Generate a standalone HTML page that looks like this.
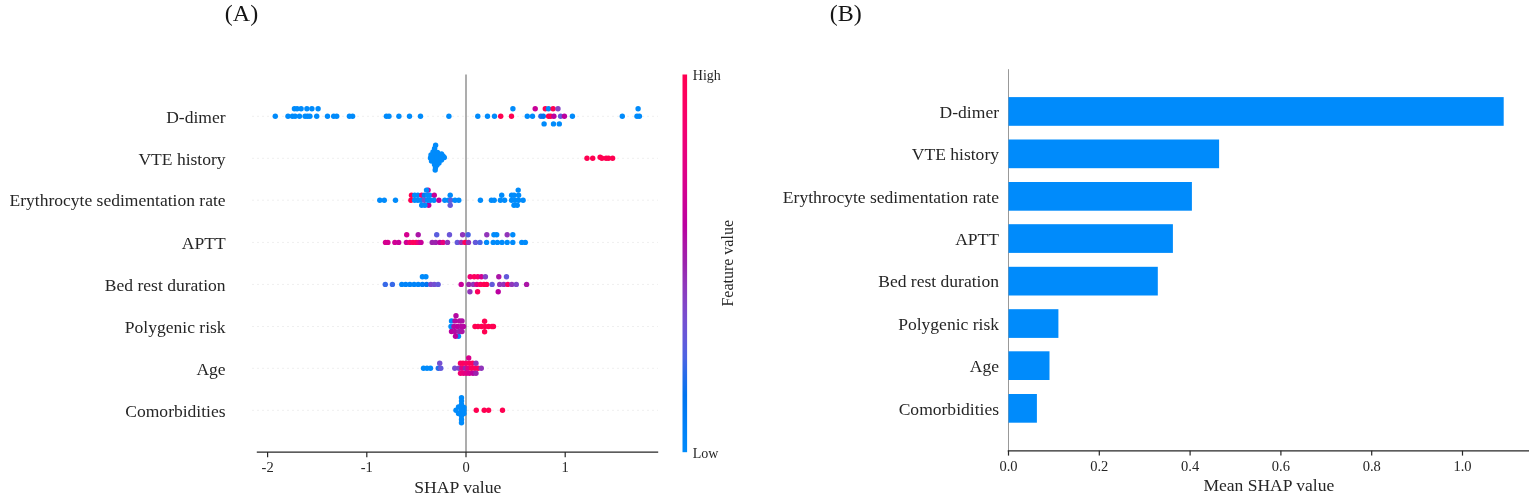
<!DOCTYPE html>
<html><head><meta charset="utf-8"><style>
html,body{margin:0;padding:0;background:#fff;}
body{width:1535px;height:502px;overflow:hidden;}
svg{display:block;}
</style></head><body>
<svg width="1535" height="502" viewBox="0 0 1535 502" font-family="'Liberation Serif','Times New Roman',serif" fill="#262626" font-size="17.55">
<defs><linearGradient id="cb" x1="0" y1="0" x2="0" y2="1">
<stop offset="0.0%" stop-color="#ff0051"/>
<stop offset="5.0%" stop-color="#fe005c"/>
<stop offset="10.0%" stop-color="#f90067"/>
<stop offset="15.0%" stop-color="#f20072"/>
<stop offset="20.0%" stop-color="#e9007c"/>
<stop offset="25.0%" stop-color="#e00086"/>
<stop offset="30.0%" stop-color="#d5008f"/>
<stop offset="35.0%" stop-color="#c80098"/>
<stop offset="40.0%" stop-color="#bb00a0"/>
<stop offset="45.0%" stop-color="#ab15a7"/>
<stop offset="50.0%" stop-color="#9b23ad"/>
<stop offset="55.0%" stop-color="#9135ba"/>
<stop offset="60.0%" stop-color="#8443c6"/>
<stop offset="65.0%" stop-color="#754fd1"/>
<stop offset="70.0%" stop-color="#6359da"/>
<stop offset="75.0%" stop-color="#4b63e3"/>
<stop offset="80.0%" stop-color="#236cea"/>
<stop offset="85.0%" stop-color="#0074f0"/>
<stop offset="90.0%" stop-color="#007cf5"/>
<stop offset="95.0%" stop-color="#0084f9"/>
<stop offset="100.0%" stop-color="#008bfb"/>
</linearGradient></defs>
<rect width="1535" height="502" fill="#fff"/>
<text x="241.5" y="21" text-anchor="middle" font-size="24" fill="#151515">(A)</text>
<text x="845.8" y="21" text-anchor="middle" font-size="24" fill="#151515">(B)</text>
<line x1="252" y1="116.3" x2="658" y2="116.3" stroke="#efefef" stroke-width="1" stroke-dasharray="2,3"/>
<line x1="252" y1="158.3" x2="658" y2="158.3" stroke="#efefef" stroke-width="1" stroke-dasharray="2,3"/>
<line x1="252" y1="200.2" x2="658" y2="200.2" stroke="#efefef" stroke-width="1" stroke-dasharray="2,3"/>
<line x1="252" y1="242.4" x2="658" y2="242.4" stroke="#efefef" stroke-width="1" stroke-dasharray="2,3"/>
<line x1="252" y1="284.4" x2="658" y2="284.4" stroke="#efefef" stroke-width="1" stroke-dasharray="2,3"/>
<line x1="252" y1="326.5" x2="658" y2="326.5" stroke="#efefef" stroke-width="1" stroke-dasharray="2,3"/>
<line x1="252" y1="368.3" x2="658" y2="368.3" stroke="#efefef" stroke-width="1" stroke-dasharray="2,3"/>
<line x1="252" y1="410.3" x2="658" y2="410.3" stroke="#efefef" stroke-width="1" stroke-dasharray="2,3"/>
<line x1="466" y1="74.5" x2="466" y2="452" stroke="#999999" stroke-width="1.6"/>
<circle cx="275.3" cy="116.3" r="2.7" fill="#008bfb"/>
<circle cx="288.0" cy="116.3" r="2.7" fill="#008bfb"/>
<circle cx="292.4" cy="116.3" r="2.7" fill="#008bfb"/>
<circle cx="295.1" cy="116.3" r="2.7" fill="#008bfb"/>
<circle cx="299.5" cy="116.3" r="2.7" fill="#008bfb"/>
<circle cx="305.1" cy="116.3" r="2.7" fill="#008bfb"/>
<circle cx="307.5" cy="116.3" r="2.7" fill="#008bfb"/>
<circle cx="309.9" cy="116.3" r="2.7" fill="#008bfb"/>
<circle cx="316.7" cy="116.3" r="2.7" fill="#008bfb"/>
<circle cx="327.5" cy="116.3" r="2.7" fill="#008bfb"/>
<circle cx="333.7" cy="116.3" r="2.7" fill="#008bfb"/>
<circle cx="336.7" cy="116.3" r="2.7" fill="#008bfb"/>
<circle cx="349.4" cy="116.3" r="2.7" fill="#008bfb"/>
<circle cx="352.6" cy="116.3" r="2.7" fill="#008bfb"/>
<circle cx="386.4" cy="116.3" r="2.7" fill="#008bfb"/>
<circle cx="389.0" cy="116.3" r="2.7" fill="#008bfb"/>
<circle cx="398.9" cy="116.3" r="2.7" fill="#008bfb"/>
<circle cx="409.5" cy="116.3" r="2.7" fill="#008bfb"/>
<circle cx="420.5" cy="116.3" r="2.7" fill="#008bfb"/>
<circle cx="448.9" cy="116.3" r="2.7" fill="#008bfb"/>
<circle cx="477.8" cy="116.3" r="2.7" fill="#008bfb"/>
<circle cx="487.5" cy="116.3" r="2.7" fill="#008bfb"/>
<circle cx="494.5" cy="116.3" r="2.7" fill="#008bfb"/>
<circle cx="500.7" cy="116.3" r="2.7" fill="#ff0051"/>
<circle cx="511.5" cy="116.3" r="2.7" fill="#ff0051"/>
<circle cx="527.3" cy="116.3" r="2.7" fill="#008bfb"/>
<circle cx="532.5" cy="116.3" r="2.7" fill="#008bfb"/>
<circle cx="540.9" cy="116.3" r="2.7" fill="#236cea"/>
<circle cx="543.3" cy="116.3" r="2.7" fill="#0074f0"/>
<circle cx="548.6" cy="116.3" r="2.7" fill="#ff0051"/>
<circle cx="550.7" cy="116.3" r="2.7" fill="#ff0051"/>
<circle cx="553.9" cy="116.3" r="2.7" fill="#bb00a0"/>
<circle cx="560.6" cy="116.3" r="2.7" fill="#6359da"/>
<circle cx="564.4" cy="116.3" r="2.7" fill="#bb00a0"/>
<circle cx="572.4" cy="116.3" r="2.7" fill="#008bfb"/>
<circle cx="622.3" cy="116.3" r="2.7" fill="#008bfb"/>
<circle cx="637.0" cy="116.3" r="2.7" fill="#008bfb"/>
<circle cx="639.4" cy="116.3" r="2.7" fill="#008bfb"/>
<circle cx="294.4" cy="108.8" r="2.7" fill="#008bfb"/>
<circle cx="297.1" cy="108.8" r="2.7" fill="#008bfb"/>
<circle cx="301.1" cy="108.8" r="2.7" fill="#008bfb"/>
<circle cx="306.9" cy="108.8" r="2.7" fill="#008bfb"/>
<circle cx="311.9" cy="108.8" r="2.7" fill="#008bfb"/>
<circle cx="318.1" cy="108.8" r="2.7" fill="#008bfb"/>
<circle cx="512.9" cy="108.8" r="2.7" fill="#008bfb"/>
<circle cx="535.2" cy="108.8" r="2.7" fill="#c80098"/>
<circle cx="545.3" cy="108.8" r="2.7" fill="#ff0051"/>
<circle cx="548.5" cy="108.8" r="2.7" fill="#008bfb"/>
<circle cx="553.1" cy="108.8" r="2.7" fill="#ff0051"/>
<circle cx="558.0" cy="108.8" r="2.7" fill="#8443c6"/>
<circle cx="638.1" cy="108.8" r="2.7" fill="#008bfb"/>
<circle cx="544.1" cy="123.9" r="2.7" fill="#008bfb"/>
<circle cx="553.5" cy="123.9" r="2.7" fill="#008bfb"/>
<circle cx="559.3" cy="123.9" r="2.7" fill="#008bfb"/>
<circle cx="435.6" cy="145.2" r="2.7" fill="#008bfb"/>
<circle cx="434.6" cy="148.5" r="2.7" fill="#008bfb"/>
<circle cx="433.0" cy="152.0" r="2.7" fill="#008bfb"/>
<circle cx="437.5" cy="152.5" r="2.7" fill="#008bfb"/>
<circle cx="431.0" cy="155.0" r="2.7" fill="#008bfb"/>
<circle cx="435.0" cy="155.0" r="2.7" fill="#008bfb"/>
<circle cx="439.5" cy="155.5" r="2.7" fill="#008bfb"/>
<circle cx="430.5" cy="158.0" r="2.7" fill="#008bfb"/>
<circle cx="434.0" cy="158.0" r="2.7" fill="#008bfb"/>
<circle cx="437.5" cy="158.0" r="2.7" fill="#008bfb"/>
<circle cx="441.0" cy="158.0" r="2.7" fill="#008bfb"/>
<circle cx="444.3" cy="157.5" r="2.7" fill="#008bfb"/>
<circle cx="431.5" cy="161.0" r="2.7" fill="#008bfb"/>
<circle cx="435.0" cy="161.5" r="2.7" fill="#008bfb"/>
<circle cx="438.5" cy="161.0" r="2.7" fill="#008bfb"/>
<circle cx="434.5" cy="164.5" r="2.7" fill="#008bfb"/>
<circle cx="437.0" cy="165.0" r="2.7" fill="#008bfb"/>
<circle cx="435.5" cy="167.5" r="2.7" fill="#008bfb"/>
<circle cx="435.2" cy="170.0" r="2.7" fill="#008bfb"/>
<circle cx="441.5" cy="154.0" r="2.7" fill="#008bfb"/>
<circle cx="443.0" cy="156.0" r="2.7" fill="#008bfb"/>
<circle cx="441.5" cy="160.0" r="2.7" fill="#008bfb"/>
<circle cx="439.0" cy="163.0" r="2.7" fill="#008bfb"/>
<circle cx="587.0" cy="158.2" r="2.7" fill="#ff0051"/>
<circle cx="592.7" cy="158.2" r="2.7" fill="#ff0051"/>
<circle cx="600.1" cy="157.2" r="2.7" fill="#ff0051"/>
<circle cx="601.9" cy="158.2" r="2.7" fill="#ff0051"/>
<circle cx="606.1" cy="158.2" r="2.7" fill="#ff0051"/>
<circle cx="608.5" cy="158.2" r="2.7" fill="#ff0051"/>
<circle cx="612.6" cy="158.2" r="2.7" fill="#ff0051"/>
<circle cx="428.1" cy="190.1" r="2.7" fill="#c80098"/>
<circle cx="426.5" cy="190.1" r="2.7" fill="#008bfb"/>
<circle cx="518.2" cy="190.1" r="2.7" fill="#008bfb"/>
<circle cx="428.7" cy="205.2" r="2.7" fill="#bb00a0"/>
<circle cx="421.7" cy="205.2" r="2.7" fill="#008bfb"/>
<circle cx="424.9" cy="205.2" r="2.7" fill="#008bfb"/>
<circle cx="450.2" cy="205.2" r="2.7" fill="#6359da"/>
<circle cx="514.0" cy="205.2" r="2.7" fill="#008bfb"/>
<circle cx="517.2" cy="205.2" r="2.7" fill="#008bfb"/>
<circle cx="411.5" cy="195.2" r="2.7" fill="#ff0051"/>
<circle cx="414.7" cy="195.2" r="2.7" fill="#008bfb"/>
<circle cx="417.9" cy="195.2" r="2.7" fill="#008bfb"/>
<circle cx="421.7" cy="195.2" r="2.7" fill="#f20072"/>
<circle cx="424.4" cy="195.2" r="2.7" fill="#007cf5"/>
<circle cx="427.6" cy="195.2" r="2.7" fill="#008bfb"/>
<circle cx="429.7" cy="195.2" r="2.7" fill="#008bfb"/>
<circle cx="434.3" cy="195.2" r="2.7" fill="#c80098"/>
<circle cx="450.2" cy="195.2" r="2.7" fill="#008bfb"/>
<circle cx="501.7" cy="195.2" r="2.7" fill="#008bfb"/>
<circle cx="511.6" cy="195.2" r="2.7" fill="#008bfb"/>
<circle cx="514.0" cy="195.2" r="2.7" fill="#008bfb"/>
<circle cx="518.6" cy="195.2" r="2.7" fill="#008bfb"/>
<circle cx="379.8" cy="200.3" r="2.7" fill="#008bfb"/>
<circle cx="384.3" cy="200.3" r="2.7" fill="#008bfb"/>
<circle cx="395.5" cy="200.3" r="2.7" fill="#008bfb"/>
<circle cx="410.9" cy="200.3" r="2.7" fill="#ff0051"/>
<circle cx="414.7" cy="200.3" r="2.7" fill="#008bfb"/>
<circle cx="417.9" cy="200.3" r="2.7" fill="#008bfb"/>
<circle cx="421.1" cy="200.3" r="2.7" fill="#008bfb"/>
<circle cx="424.4" cy="200.3" r="2.7" fill="#754fd1"/>
<circle cx="427.6" cy="200.3" r="2.7" fill="#008bfb"/>
<circle cx="430.3" cy="200.3" r="2.7" fill="#008bfb"/>
<circle cx="434.0" cy="200.3" r="2.7" fill="#008bfb"/>
<circle cx="438.9" cy="200.3" r="2.7" fill="#c0009c"/>
<circle cx="444.8" cy="200.3" r="2.7" fill="#008bfb"/>
<circle cx="448.5" cy="200.3" r="2.7" fill="#008bfb"/>
<circle cx="450.7" cy="200.3" r="2.7" fill="#5a5dde"/>
<circle cx="455.0" cy="200.3" r="2.7" fill="#008bfb"/>
<circle cx="458.8" cy="200.3" r="2.7" fill="#008bfb"/>
<circle cx="480.4" cy="200.3" r="2.7" fill="#008bfb"/>
<circle cx="491.4" cy="200.3" r="2.7" fill="#008bfb"/>
<circle cx="494.2" cy="200.3" r="2.7" fill="#008bfb"/>
<circle cx="500.4" cy="200.3" r="2.7" fill="#008bfb"/>
<circle cx="504.6" cy="200.3" r="2.7" fill="#008bfb"/>
<circle cx="511.6" cy="200.3" r="2.7" fill="#008bfb"/>
<circle cx="515.1" cy="200.3" r="2.7" fill="#008bfb"/>
<circle cx="518.6" cy="200.3" r="2.7" fill="#008bfb"/>
<circle cx="523.1" cy="200.3" r="2.7" fill="#008bfb"/>
<circle cx="385.5" cy="242.4" r="2.7" fill="#d5008f"/>
<circle cx="387.9" cy="242.4" r="2.7" fill="#d5008f"/>
<circle cx="394.9" cy="242.4" r="2.7" fill="#d00093"/>
<circle cx="398.7" cy="242.4" r="2.7" fill="#c80098"/>
<circle cx="406.4" cy="242.4" r="2.7" fill="#d00093"/>
<circle cx="409.9" cy="242.4" r="2.7" fill="#f20072"/>
<circle cx="413.0" cy="242.4" r="2.7" fill="#fe005c"/>
<circle cx="416.1" cy="242.4" r="2.7" fill="#fe005c"/>
<circle cx="418.6" cy="242.4" r="2.7" fill="#e9007c"/>
<circle cx="421.0" cy="242.4" r="2.7" fill="#c80098"/>
<circle cx="432.2" cy="242.4" r="2.7" fill="#9b23ad"/>
<circle cx="435.7" cy="242.4" r="2.7" fill="#9b23ad"/>
<circle cx="439.9" cy="242.4" r="2.7" fill="#bb00a0"/>
<circle cx="443.0" cy="242.4" r="2.7" fill="#e9007c"/>
<circle cx="447.5" cy="242.4" r="2.7" fill="#9135ba"/>
<circle cx="457.3" cy="242.4" r="2.7" fill="#6359da"/>
<circle cx="461.2" cy="242.4" r="2.7" fill="#9135ba"/>
<circle cx="465.0" cy="242.4" r="2.7" fill="#fe005c"/>
<circle cx="468.5" cy="242.4" r="2.7" fill="#9135ba"/>
<circle cx="475.5" cy="242.4" r="2.7" fill="#6359da"/>
<circle cx="480.0" cy="242.4" r="2.7" fill="#4b63e3"/>
<circle cx="486.6" cy="242.4" r="2.7" fill="#008bfb"/>
<circle cx="493.2" cy="242.4" r="2.7" fill="#008bfb"/>
<circle cx="497.4" cy="242.4" r="2.7" fill="#008bfb"/>
<circle cx="502.0" cy="242.4" r="2.7" fill="#008bfb"/>
<circle cx="507.2" cy="242.4" r="2.7" fill="#008bfb"/>
<circle cx="512.8" cy="242.4" r="2.7" fill="#008bfb"/>
<circle cx="521.8" cy="242.4" r="2.7" fill="#008bfb"/>
<circle cx="525.3" cy="242.4" r="2.7" fill="#008bfb"/>
<circle cx="406.7" cy="234.8" r="2.7" fill="#d5008f"/>
<circle cx="418.2" cy="234.8" r="2.7" fill="#ab15a7"/>
<circle cx="436.7" cy="234.8" r="2.7" fill="#5a5dde"/>
<circle cx="449.5" cy="234.8" r="2.7" fill="#6a55d7"/>
<circle cx="462.6" cy="234.8" r="2.7" fill="#9135ba"/>
<circle cx="468.1" cy="234.8" r="2.7" fill="#4b63e3"/>
<circle cx="486.8" cy="234.8" r="2.7" fill="#9135ba"/>
<circle cx="493.9" cy="234.8" r="2.7" fill="#008bfb"/>
<circle cx="496.7" cy="234.8" r="2.7" fill="#008bfb"/>
<circle cx="507.2" cy="234.8" r="2.7" fill="#9135ba"/>
<circle cx="512.8" cy="234.8" r="2.7" fill="#008bfb"/>
<circle cx="385.3" cy="284.4" r="2.7" fill="#3769e8"/>
<circle cx="392.4" cy="284.4" r="2.7" fill="#3769e8"/>
<circle cx="401.8" cy="284.4" r="2.7" fill="#0084f9"/>
<circle cx="405.7" cy="284.4" r="2.7" fill="#0084f9"/>
<circle cx="409.9" cy="284.4" r="2.7" fill="#0084f9"/>
<circle cx="414.1" cy="284.4" r="2.7" fill="#0084f9"/>
<circle cx="418.2" cy="284.4" r="2.7" fill="#0084f9"/>
<circle cx="422.4" cy="284.4" r="2.7" fill="#007cf5"/>
<circle cx="426.6" cy="284.4" r="2.7" fill="#0074f0"/>
<circle cx="430.8" cy="284.4" r="2.7" fill="#7e48ca"/>
<circle cx="434.3" cy="284.4" r="2.7" fill="#754fd1"/>
<circle cx="438.1" cy="284.4" r="2.7" fill="#6359da"/>
<circle cx="461.2" cy="284.4" r="2.7" fill="#c80098"/>
<circle cx="468.8" cy="284.4" r="2.7" fill="#9b23ad"/>
<circle cx="473.3" cy="284.4" r="2.7" fill="#9135ba"/>
<circle cx="476.9" cy="284.4" r="2.7" fill="#e00086"/>
<circle cx="480.5" cy="284.4" r="2.7" fill="#fe005c"/>
<circle cx="484.0" cy="284.4" r="2.7" fill="#ff0051"/>
<circle cx="486.7" cy="284.4" r="2.7" fill="#ff0051"/>
<circle cx="492.1" cy="284.4" r="2.7" fill="#6359da"/>
<circle cx="499.7" cy="284.4" r="2.7" fill="#9135ba"/>
<circle cx="503.8" cy="284.4" r="2.7" fill="#9135ba"/>
<circle cx="507.8" cy="284.4" r="2.7" fill="#fe005c"/>
<circle cx="511.8" cy="284.4" r="2.7" fill="#9135ba"/>
<circle cx="516.3" cy="284.4" r="2.7" fill="#7e48ca"/>
<circle cx="526.6" cy="284.4" r="2.7" fill="#ab15a7"/>
<circle cx="422.4" cy="276.8" r="2.7" fill="#008bfb"/>
<circle cx="425.9" cy="276.8" r="2.7" fill="#008bfb"/>
<circle cx="470.2" cy="276.8" r="2.7" fill="#f20072"/>
<circle cx="474.2" cy="276.8" r="2.7" fill="#fe005c"/>
<circle cx="477.8" cy="276.8" r="2.7" fill="#f90067"/>
<circle cx="481.4" cy="276.8" r="2.7" fill="#d5008f"/>
<circle cx="485.4" cy="276.8" r="2.7" fill="#8443c6"/>
<circle cx="498.8" cy="276.8" r="2.7" fill="#ab15a7"/>
<circle cx="506.5" cy="276.8" r="2.7" fill="#6359da"/>
<circle cx="469.9" cy="291.7" r="2.7" fill="#9135ba"/>
<circle cx="477.6" cy="291.7" r="2.7" fill="#fe005c"/>
<circle cx="498.2" cy="291.7" r="2.7" fill="#bb00a0"/>
<circle cx="451.5" cy="320.9" r="2.7" fill="#008bfb"/>
<circle cx="451.0" cy="326.5" r="2.7" fill="#008bfb"/>
<circle cx="458.5" cy="336.2" r="2.7" fill="#008bfb"/>
<circle cx="456.0" cy="315.7" r="2.7" fill="#b508a2"/>
<circle cx="455.0" cy="320.9" r="2.7" fill="#b508a2"/>
<circle cx="459.5" cy="320.9" r="2.7" fill="#b508a2"/>
<circle cx="462.0" cy="320.9" r="2.7" fill="#af11a5"/>
<circle cx="454.0" cy="326.5" r="2.7" fill="#b508a2"/>
<circle cx="457.5" cy="326.5" r="2.7" fill="#bb00a0"/>
<circle cx="461.0" cy="326.5" r="2.7" fill="#b508a2"/>
<circle cx="463.5" cy="326.5" r="2.7" fill="#b508a2"/>
<circle cx="451.5" cy="331.5" r="2.7" fill="#bb00a0"/>
<circle cx="455.0" cy="331.5" r="2.7" fill="#b508a2"/>
<circle cx="459.0" cy="331.5" r="2.7" fill="#9b23ad"/>
<circle cx="462.0" cy="331.5" r="2.7" fill="#ab15a7"/>
<circle cx="455.5" cy="336.2" r="2.7" fill="#bb00a0"/>
<circle cx="475.0" cy="326.5" r="2.7" fill="#ff0051"/>
<circle cx="478.0" cy="326.5" r="2.7" fill="#ff0051"/>
<circle cx="481.5" cy="326.5" r="2.7" fill="#ff0051"/>
<circle cx="485.0" cy="326.5" r="2.7" fill="#ff0051"/>
<circle cx="488.5" cy="326.5" r="2.7" fill="#ff0051"/>
<circle cx="492.0" cy="326.5" r="2.7" fill="#ff0051"/>
<circle cx="493.5" cy="326.5" r="2.7" fill="#ff0051"/>
<circle cx="484.6" cy="321.2" r="2.7" fill="#ff0051"/>
<circle cx="484.6" cy="331.7" r="2.7" fill="#ff0051"/>
<circle cx="423.5" cy="368.3" r="2.7" fill="#008bfb"/>
<circle cx="427.0" cy="368.3" r="2.7" fill="#008bfb"/>
<circle cx="430.5" cy="368.3" r="2.7" fill="#008bfb"/>
<circle cx="438.3" cy="368.3" r="2.7" fill="#236cea"/>
<circle cx="440.8" cy="368.3" r="2.7" fill="#6359da"/>
<circle cx="439.7" cy="363.2" r="2.7" fill="#754fd1"/>
<circle cx="454.8" cy="368.3" r="2.7" fill="#754fd1"/>
<circle cx="459.0" cy="368.3" r="2.7" fill="#8443c6"/>
<circle cx="462.0" cy="368.3" r="2.7" fill="#e00086"/>
<circle cx="465.5" cy="368.3" r="2.7" fill="#9b23ad"/>
<circle cx="468.0" cy="368.3" r="2.7" fill="#e00086"/>
<circle cx="471.5" cy="368.3" r="2.7" fill="#fe005c"/>
<circle cx="475.0" cy="368.3" r="2.7" fill="#fe005c"/>
<circle cx="478.0" cy="368.3" r="2.7" fill="#fe005c"/>
<circle cx="481.3" cy="368.3" r="2.7" fill="#9135ba"/>
<circle cx="460.5" cy="363.2" r="2.7" fill="#f90067"/>
<circle cx="463.0" cy="363.2" r="2.7" fill="#fe005c"/>
<circle cx="466.0" cy="363.2" r="2.7" fill="#f90067"/>
<circle cx="469.5" cy="363.2" r="2.7" fill="#fe005c"/>
<circle cx="472.5" cy="363.2" r="2.7" fill="#fe005c"/>
<circle cx="476.0" cy="363.2" r="2.7" fill="#9135ba"/>
<circle cx="468.7" cy="358.0" r="2.7" fill="#d9008b"/>
<circle cx="460.5" cy="373.3" r="2.7" fill="#f20072"/>
<circle cx="463.5" cy="373.3" r="2.7" fill="#e9007c"/>
<circle cx="466.5" cy="373.3" r="2.7" fill="#e00086"/>
<circle cx="469.5" cy="373.3" r="2.7" fill="#d5008f"/>
<circle cx="473.0" cy="373.3" r="2.7" fill="#bb00a0"/>
<circle cx="476.0" cy="373.3" r="2.7" fill="#9b23ad"/>
<circle cx="461.5" cy="397.7" r="2.7" fill="#008bfb"/>
<circle cx="461.5" cy="401.0" r="2.7" fill="#008bfb"/>
<circle cx="461.5" cy="404.5" r="2.7" fill="#008bfb"/>
<circle cx="461.5" cy="407.5" r="2.7" fill="#008bfb"/>
<circle cx="461.5" cy="410.3" r="2.7" fill="#008bfb"/>
<circle cx="461.5" cy="413.0" r="2.7" fill="#008bfb"/>
<circle cx="461.5" cy="416.0" r="2.7" fill="#008bfb"/>
<circle cx="461.5" cy="419.5" r="2.7" fill="#008bfb"/>
<circle cx="461.5" cy="422.7" r="2.7" fill="#008bfb"/>
<circle cx="456.0" cy="410.3" r="2.7" fill="#008bfb"/>
<circle cx="458.5" cy="407.0" r="2.7" fill="#008bfb"/>
<circle cx="458.5" cy="413.5" r="2.7" fill="#008bfb"/>
<circle cx="464.0" cy="407.5" r="2.7" fill="#008bfb"/>
<circle cx="464.0" cy="410.3" r="2.7" fill="#008bfb"/>
<circle cx="464.0" cy="413.5" r="2.7" fill="#008bfb"/>
<circle cx="476.3" cy="410.3" r="2.7" fill="#ff0051"/>
<circle cx="484.2" cy="410.3" r="2.7" fill="#ff0051"/>
<circle cx="488.6" cy="410.3" r="2.7" fill="#ff0051"/>
<circle cx="502.5" cy="410.3" r="2.7" fill="#ff0051"/>
<line x1="256.8" y1="452.2" x2="658.2" y2="452.2" stroke="#262626" stroke-width="1.3"/>
<line x1="267.6" y1="452" x2="267.6" y2="457.3" stroke="#262626" stroke-width="1.2"/><text x="267.6" y="472" text-anchor="middle" font-size="14.5">-2</text>
<line x1="366.8" y1="452" x2="366.8" y2="457.3" stroke="#262626" stroke-width="1.2"/><text x="366.8" y="472" text-anchor="middle" font-size="14.5">-1</text>
<line x1="466.0" y1="452" x2="466.0" y2="457.3" stroke="#262626" stroke-width="1.2"/><text x="466.0" y="472" text-anchor="middle" font-size="14.5">0</text>
<line x1="565.2" y1="452" x2="565.2" y2="457.3" stroke="#262626" stroke-width="1.2"/><text x="565.2" y="472" text-anchor="middle" font-size="14.5">1</text>
<text x="457.8" y="493.2" text-anchor="middle" font-size="17.7">SHAP value</text>
<text x="225.6" y="122.5" text-anchor="end">D-dimer</text>
<text x="225.6" y="164.5" text-anchor="end">VTE history</text>
<text x="225.6" y="206.4" text-anchor="end">Erythrocyte sedimentation rate</text>
<text x="225.6" y="248.6" text-anchor="end">APTT</text>
<text x="225.6" y="290.6" text-anchor="end">Bed rest duration</text>
<text x="225.6" y="332.7" text-anchor="end">Polygenic risk</text>
<text x="225.6" y="374.5" text-anchor="end">Age</text>
<text x="225.6" y="416.5" text-anchor="end">Comorbidities</text>
<rect x="682.5" y="74.5" width="4.6" height="377.7" fill="url(#cb)"/>
<text x="692.8" y="79.6" font-size="14">High</text>
<text x="692.8" y="458" font-size="14">Low</text>
<text transform="translate(732.6,263.3) rotate(-90)" text-anchor="middle" font-size="16">Feature value</text>
<line x1="1008.5" y1="69.2" x2="1008.5" y2="451" stroke="#999999" stroke-width="1"/>
<rect x="1008.5" y="97.1" width="495.2" height="28.7" fill="#008bfb"/>
<rect x="1008.5" y="139.5" width="210.6" height="28.7" fill="#008bfb"/>
<rect x="1008.5" y="182.0" width="183.4" height="28.7" fill="#008bfb"/>
<rect x="1008.5" y="224.2" width="164.4" height="28.7" fill="#008bfb"/>
<rect x="1008.5" y="266.8" width="149.3" height="28.7" fill="#008bfb"/>
<rect x="1008.5" y="309.2" width="49.9" height="28.7" fill="#008bfb"/>
<rect x="1008.5" y="351.3" width="41.0" height="28.7" fill="#008bfb"/>
<rect x="1008.5" y="394.0" width="28.4" height="28.7" fill="#008bfb"/>
<line x1="1007.7" y1="450.8" x2="1529" y2="450.8" stroke="#262626" stroke-width="1.3"/>
<line x1="1008.5" y1="450.8" x2="1008.5" y2="455.6" stroke="#262626" stroke-width="1.2"/><text x="1008.5" y="470.6" text-anchor="middle" font-size="14.5">0.0</text>
<line x1="1099.3" y1="450.8" x2="1099.3" y2="455.6" stroke="#262626" stroke-width="1.2"/><text x="1099.3" y="470.6" text-anchor="middle" font-size="14.5">0.2</text>
<line x1="1190.1" y1="450.8" x2="1190.1" y2="455.6" stroke="#262626" stroke-width="1.2"/><text x="1190.1" y="470.6" text-anchor="middle" font-size="14.5">0.4</text>
<line x1="1280.9" y1="450.8" x2="1280.9" y2="455.6" stroke="#262626" stroke-width="1.2"/><text x="1280.9" y="470.6" text-anchor="middle" font-size="14.5">0.6</text>
<line x1="1371.7" y1="450.8" x2="1371.7" y2="455.6" stroke="#262626" stroke-width="1.2"/><text x="1371.7" y="470.6" text-anchor="middle" font-size="14.5">0.8</text>
<line x1="1462.5" y1="450.8" x2="1462.5" y2="455.6" stroke="#262626" stroke-width="1.2"/><text x="1462.5" y="470.6" text-anchor="middle" font-size="14.5">1.0</text>
<text x="1268.8" y="491.2" text-anchor="middle">Mean SHAP value</text>
<text x="999" y="117.6" text-anchor="end">D-dimer</text>
<text x="999" y="160.0" text-anchor="end">VTE history</text>
<text x="999" y="202.5" text-anchor="end">Erythrocyte sedimentation rate</text>
<text x="999" y="244.7" text-anchor="end">APTT</text>
<text x="999" y="287.4" text-anchor="end">Bed rest duration</text>
<text x="999" y="329.8" text-anchor="end">Polygenic risk</text>
<text x="999" y="371.9" text-anchor="end">Age</text>
<text x="999" y="414.6" text-anchor="end">Comorbidities</text>
</svg>
</body></html>
